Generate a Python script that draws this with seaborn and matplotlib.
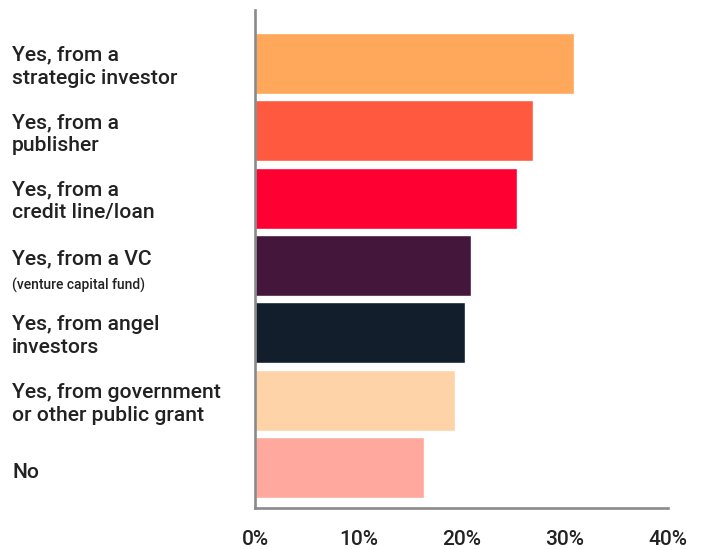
import matplotlib
matplotlib.use("Agg")
import matplotlib.pyplot as plt
import matplotlib.transforms as mtransforms
import seaborn as sns
import pandas as pd

sns.set_style("white")
plt.rcParams['font.family'] = ['Roboto', 'DejaVu Sans']

categories = [
    "Yes, from a\nstrategic investor",
    "Yes, from a\npublisher",
    "Yes, from a\ncredit line/loan",
    "Yes, from a VC",
    "Yes, from angel\ninvestors",
    "Yes, from government\nor other public grant",
    "No",
]
values = [30.9, 26.9, 25.4, 20.9, 20.3, 19.4, 16.4]
colors = ["#FFA75A", "#FF5A3F", "#FF0033", "#45163C", "#121E2B", "#FFD3A8", "#FFA99E"]
sub_note = "(venture capital fund)"
xticks = [0, 10, 20, 30, 40]
xtick_labels = ["0%", "10%", "20%", "30%", "40%"]

df = pd.DataFrame({"category": categories, "value": values})

fig = plt.figure(figsize=(7.04, 5.49), dpi=100)
ax = fig.add_axes([255/704, 1 - 508/549, (668-255)/704, (508-10)/549])

sns.barplot(data=df, x="value", y="category", hue="category",
            palette=colors, legend=False, width=0.905, ax=ax,
            saturation=1, orient="h")

ax.set_xlim(0, 40)
ax.set_ylim(6.6, -0.79)
ax.set_xticks(xticks)
ax.set_xticklabels(xtick_labels, fontsize=15, color="#222222", fontweight=500)
ax.tick_params(axis="x", length=0, pad=16)
ax.set_yticks([])
ax.set_xlabel("")
ax.set_ylabel("")

for s in ["top", "right"]:
    ax.spines[s].set_visible(False)
for s in ["left", "bottom"]:
    ax.spines[s].set_color("#8a8a8a")
    ax.spines[s].set_linewidth(1.9)

trans = mtransforms.blended_transform_factory(fig.transFigure, ax.transData)
x0 = 12 / 704
for i, cat in enumerate(categories):
    if cat == "Yes, from a VC":
        ax.text(x0, i - 0.09, cat, transform=trans, ha="left", va="center",
                fontsize=15.2, color="#222222", fontweight=500)
        ax.text(x0, i + 0.30, sub_note, transform=trans, ha="left", va="center",
                fontsize=10, color="#222222", fontweight=500)
    elif "\n" not in cat:
        ax.text(x0, i + 0.07, cat, transform=trans, ha="left", va="center",
                fontsize=15.2, color="#222222", fontweight=500)
    else:
        ax.text(x0, i + 0.05, cat, transform=trans, ha="left", va="center",
                fontsize=15.2, color="#222222", linespacing=1.27, fontweight=500)

fig.savefig("out.png", dpi=100)
